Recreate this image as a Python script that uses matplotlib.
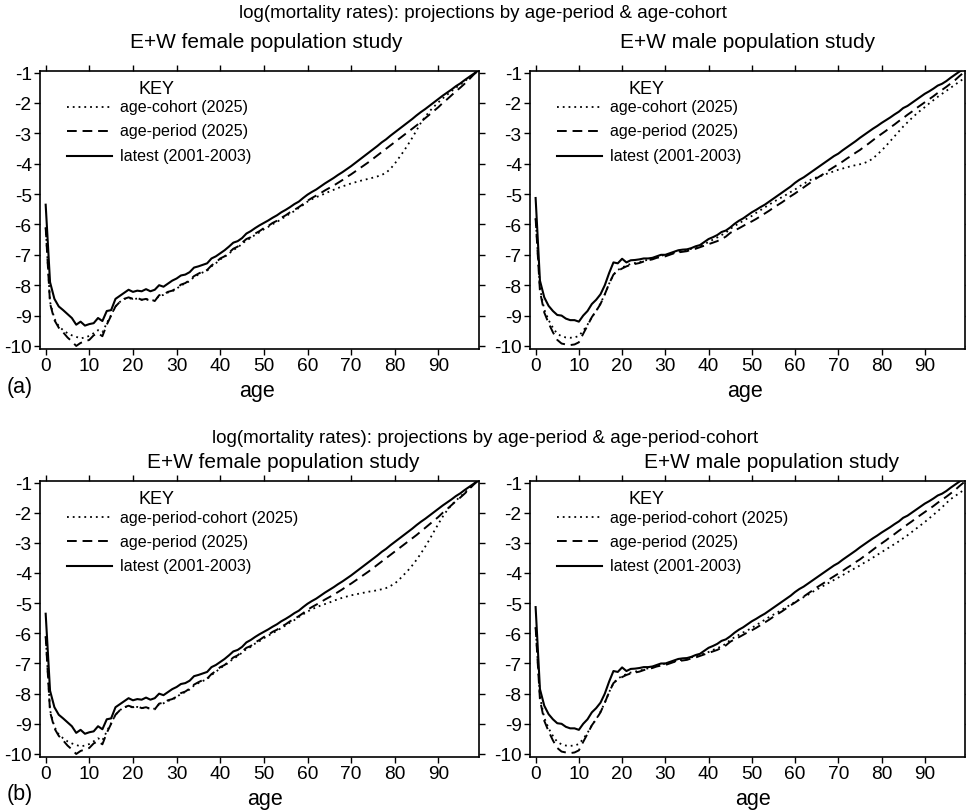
import matplotlib
matplotlib.use("Agg")
import matplotlib.pyplot as plt
from matplotlib.lines import Line2D

plt.rcParams['font.family'] = ['Liberation Sans', 'DejaVu Sans']
plt.rcParams['axes.unicode_minus'] = False

ages = list(range(100))

female_latest = [
    -5.35, -7.9, -8.45, -8.7, -8.82, -8.95, -9.08, -9.3, -9.2, -9.33,
    -9.28, -9.25, -9.08, -9.18, -8.85, -8.82, -8.45, -8.35, -8.25, -8.15,
    -8.22, -8.18, -8.2, -8.13, -8.2, -8.15, -8.0, -8.05, -7.95, -7.85,
    -7.78, -7.68, -7.65, -7.57, -7.42, -7.38, -7.33, -7.28, -7.12, -7.05,
    -6.95, -6.85, -6.73, -6.6, -6.55, -6.45, -6.3, -6.22, -6.12, -6.03,
    -5.95, -5.87, -5.78, -5.7, -5.6, -5.52, -5.43, -5.33, -5.25, -5.13,
    -5.02, -4.93, -4.85, -4.75, -4.65, -4.56, -4.47, -4.37, -4.28, -4.18,
    -4.08, -3.97, -3.86, -3.75, -3.64, -3.53, -3.42, -3.3, -3.2, -3.08,
    -2.97, -2.86, -2.75, -2.64, -2.53, -2.41, -2.3, -2.2, -2.09, -1.98,
    -1.87, -1.76, -1.66, -1.56, -1.45, -1.36, -1.25, -1.15, -1.05, -0.95]

female_ap = [
    -6.1, -8.6, -9.15, -9.4, -9.55, -9.72, -9.85, -10.0, -9.9, -9.85,
    -9.8, -9.65, -9.58, -9.68, -9.3, -9.0, -8.7, -8.55, -8.45, -8.4,
    -8.45, -8.42, -8.48, -8.45, -8.5, -8.52, -8.33, -8.3, -8.22, -8.18,
    -8.1, -7.98, -7.93, -7.83, -7.7, -7.62, -7.55, -7.5, -7.35, -7.25,
    -7.12, -7.05, -6.93, -6.8, -6.73, -6.6, -6.48, -6.42, -6.3, -6.22,
    -6.12, -6.05, -5.95, -5.88, -5.78, -5.7, -5.6, -5.52, -5.43, -5.33,
    -5.22, -5.13, -5.05, -4.97, -4.88, -4.8, -4.72, -4.63, -4.54, -4.44,
    -4.35, -4.25, -4.15, -4.05, -3.95, -3.84, -3.73, -3.62, -3.51, -3.4,
    -3.29, -3.18, -3.07, -2.96, -2.85, -2.74, -2.62, -2.5, -2.38, -2.26,
    -2.14, -2.0, -1.88, -1.75, -1.62, -1.5, -1.37, -1.23, -1.08, -0.95]

female_ac = [
    -6.1, -8.55, -9.1, -9.35, -9.48, -9.58, -9.65, -9.7, -9.75, -9.72,
    -9.67, -9.58, -9.48, -9.55, -9.25, -8.98, -8.7, -8.55, -8.45, -8.42,
    -8.46, -8.44, -8.48, -8.47, -8.5, -8.5, -8.35, -8.32, -8.24, -8.2,
    -8.12, -8.0, -7.95, -7.86, -7.73, -7.65, -7.58, -7.52, -7.38, -7.28,
    -7.15, -7.07, -6.96, -6.84, -6.76, -6.64, -6.52, -6.45, -6.34, -6.26,
    -6.16, -6.08, -5.99, -5.92, -5.82, -5.74, -5.64, -5.56, -5.46, -5.36,
    -5.25, -5.17, -5.1, -5.05, -4.98, -4.92, -4.86, -4.8, -4.75, -4.7,
    -4.65, -4.61, -4.57, -4.53, -4.5, -4.46, -4.42, -4.37, -4.3, -4.17,
    -4.0, -3.8, -3.6, -3.38, -3.15, -2.9, -2.65, -2.45, -2.27, -2.12,
    -1.98, -1.85, -1.73, -1.61, -1.5, -1.4, -1.29, -1.17, -1.05, -0.95]

female_apc = [
    -6.1, -8.55, -9.1, -9.35, -9.48, -9.58, -9.65, -9.7, -9.75, -9.72,
    -9.67, -9.58, -9.48, -9.55, -9.25, -8.98, -8.7, -8.55, -8.45, -8.42,
    -8.46, -8.44, -8.48, -8.47, -8.5, -8.5, -8.35, -8.32, -8.24, -8.2,
    -8.12, -8.0, -7.95, -7.86, -7.73, -7.65, -7.58, -7.52, -7.38, -7.28,
    -7.15, -7.07, -6.96, -6.84, -6.76, -6.64, -6.52, -6.45, -6.34, -6.26,
    -6.16, -6.08, -5.99, -5.92, -5.82, -5.74, -5.64, -5.56, -5.46, -5.37,
    -5.28, -5.2, -5.14, -5.08, -5.03, -4.98, -4.92, -4.87, -4.82, -4.78,
    -4.74, -4.71, -4.68, -4.65, -4.62, -4.6, -4.57, -4.54, -4.5, -4.43,
    -4.35, -4.22, -4.07, -3.92, -3.75, -3.56, -3.35, -3.12, -2.88, -2.62,
    -2.37, -2.13, -1.92, -1.75, -1.6, -1.47, -1.34, -1.2, -1.06, -0.95]

male_latest = [
    -5.13, -7.85, -8.4, -8.68, -8.85, -8.98, -9.0, -9.1, -9.15, -9.15,
    -9.2, -9.0, -8.85, -8.62, -8.48, -8.3, -8.0, -7.6, -7.25, -7.28,
    -7.13, -7.25, -7.18, -7.17, -7.15, -7.12, -7.12, -7.1, -7.05, -7.0,
    -7.0, -6.95, -6.9, -6.85, -6.83, -6.82, -6.78, -6.72, -6.68, -6.58,
    -6.48, -6.42, -6.35, -6.25, -6.2, -6.1, -5.98, -5.88, -5.8, -5.7,
    -5.6, -5.52, -5.43, -5.35, -5.25, -5.15, -5.05, -4.95, -4.85, -4.75,
    -4.63, -4.53, -4.45, -4.35, -4.25, -4.15, -4.05, -3.95, -3.85, -3.75,
    -3.67, -3.56, -3.46, -3.36, -3.26, -3.15, -3.05, -2.95, -2.85, -2.76,
    -2.66, -2.57, -2.48, -2.38, -2.29, -2.17, -2.1, -2.0, -1.9, -1.8,
    -1.7, -1.62, -1.53, -1.43, -1.37, -1.28, -1.17, -1.07, -0.97, -0.88]

male_ap = [
    -5.8, -8.2, -8.9, -9.25, -9.55, -9.8, -9.92, -9.95, -9.97, -9.95,
    -9.88, -9.6, -9.33, -9.05, -8.85, -8.62, -8.3, -7.95, -7.65, -7.53,
    -7.45, -7.38, -7.33, -7.3, -7.27, -7.22, -7.18, -7.15, -7.1, -7.07,
    -7.05, -7.0, -6.95, -6.92, -6.9, -6.88, -6.83, -6.8, -6.75, -6.7,
    -6.65, -6.6, -6.55, -6.48, -6.4, -6.28, -6.2, -6.13, -6.05, -5.97,
    -5.9, -5.82, -5.73, -5.64, -5.55, -5.45, -5.36, -5.27, -5.17, -5.07,
    -4.98, -4.88, -4.78, -4.68, -4.58, -4.48, -4.39, -4.3, -4.2, -4.11,
    -4.02, -3.93, -3.83, -3.74, -3.64, -3.55, -3.44, -3.34, -3.23, -3.12,
    -3.02, -2.92, -2.81, -2.71, -2.6, -2.5, -2.39, -2.29, -2.18, -2.08,
    -1.98, -1.88, -1.78, -1.67, -1.57, -1.47, -1.36, -1.25, -1.12, -1.0]

male_ac = [
    -5.8, -8.1, -8.8, -9.15, -9.4, -9.6, -9.68, -9.72, -9.73, -9.72,
    -9.67, -9.5, -9.3, -9.05, -8.85, -8.6, -8.3, -7.95, -7.65, -7.5,
    -7.42, -7.35, -7.3, -7.27, -7.24, -7.2, -7.16, -7.12, -7.07, -7.03,
    -7.0, -6.97, -6.93, -6.9, -6.87, -6.85, -6.8, -6.75, -6.7, -6.65,
    -6.58, -6.5, -6.43, -6.35, -6.27, -6.15, -6.05, -5.97, -5.88, -5.8,
    -5.72, -5.62, -5.53, -5.44, -5.35, -5.26, -5.18, -5.1, -5.02, -4.93,
    -4.85, -4.75, -4.66, -4.58, -4.5, -4.45, -4.4, -4.35, -4.3, -4.25,
    -4.2, -4.16, -4.12, -4.08, -4.05, -4.02, -3.98, -3.92, -3.83, -3.7,
    -3.57, -3.42, -3.26, -3.1, -2.94, -2.78, -2.64, -2.5, -2.37, -2.25,
    -2.14, -2.02, -1.91, -1.8, -1.7, -1.6, -1.5, -1.4, -1.3, -1.2]

male_apc = [
    -5.8, -8.1, -8.8, -9.15, -9.4, -9.6, -9.68, -9.72, -9.73, -9.72,
    -9.67, -9.5, -9.3, -9.05, -8.85, -8.6, -8.3, -7.95, -7.65, -7.5,
    -7.42, -7.35, -7.3, -7.27, -7.24, -7.2, -7.16, -7.12, -7.07, -7.03,
    -7.0, -6.97, -6.93, -6.9, -6.87, -6.85, -6.8, -6.76, -6.72, -6.67,
    -6.62, -6.55, -6.5, -6.42, -6.35, -6.22, -6.13, -6.05, -5.97, -5.9,
    -5.82, -5.73, -5.64, -5.55, -5.46, -5.38, -5.3, -5.21, -5.13, -5.04,
    -4.96, -4.88, -4.8, -4.72, -4.63, -4.55, -4.47, -4.39, -4.31, -4.23,
    -4.15, -4.07, -3.99, -3.91, -3.83, -3.75, -3.66, -3.58, -3.49, -3.4,
    -3.31, -3.22, -3.13, -3.04, -2.95, -2.85, -2.75, -2.64, -2.53, -2.42,
    -2.31, -2.19, -2.07, -1.95, -1.82, -1.68, -1.55, -1.45, -1.35, -1.25]

x_ticks = [0, 10, 20, 30, 40, 50, 60, 70, 80, 90]
y_ticks = [-1, -2, -3, -4, -5, -6, -7, -8, -9, -10]

main_titles = ["log(mortality rates): projections by age-period & age-cohort",
               "log(mortality rates): projections by age-period & age-period-cohort"]
sub_titles = ["E+W female population study", "E+W male population study"]
latest_label = "latest (2001-2003)"
ap_label = "age-period (2025)"
ac_label = "age-cohort (2025)"
apc_label = "age-period-cohort (2025)"

W, H = 966, 812
fig = plt.figure(figsize=(W / 100, H / 100), dpi=100)


def px_axes(l, t, r, b):
    return fig.add_axes([l / W, 1 - b / H, (r - l) / W, (b - t) / H])


DOT = (0, (1.0, 2.2))
DASH = (0, (5.0, 3.0))

panels = [
    (40, 72, 479, 350, female_ac, ac_label, female_ap, female_latest),
    (530, 72, 965, 350, male_ac, ac_label, male_ap, male_latest),
    (40, 482, 479, 758, female_apc, apc_label, female_ap, female_latest),
    (530, 482, 965, 758, male_apc, apc_label, male_ap, male_latest),
]

for (l, t, r, b, dotted, dlabel, dashed, solid) in panels:
    ax = px_axes(l, t, r, b)
    ax.plot(ages, dotted, color='black', lw=1.3, linestyle=DOT)
    ax.plot(ages, dashed, color='black', lw=1.4, linestyle=DASH)
    ax.plot(ages, solid, color='black', lw=1.5, linestyle='-')
    ax.set_xlim(-1.3, 99.3)
    ax.set_ylim(-10.1, -0.95)
    ax.set_xticks(x_ticks)
    ax.set_yticks(y_ticks)
    ax.set_yticklabels([str(v) for v in y_ticks])
    ax.tick_params(direction='out', length=4, width=1.0, labelsize=13.8,
                   top=True, right=True, pad=2, colors='black')
    ax.tick_params(axis='x', pad=2)
    for s in ax.spines.values():
        s.set_linewidth(1.2)
    # key
    aw = r - l
    ah = b - t
    ax.text(117 / aw, 1 - 18 / ah, "KEY", transform=ax.transAxes,
            ha='center', va='center', fontsize=13)
    rows = [(36, DOT, 1.3, dlabel), (60, DASH, 1.4, ap_label), (85, '-', 1.5, latest_label)]
    for yy, ls, lw, lab in rows:
        yf = 1 - yy / ah
        ax.add_line(Line2D([27 / aw, 72 / aw], [yf, yf], transform=ax.transAxes,
                           color='black', lw=lw, linestyle=ls))
        ax.text(80 / aw, yf, lab, transform=ax.transAxes, ha='left', va='center',
                fontsize=11.6)


def ftxt(x, y, s, size, **kw):
    fig.text(x / W, 1 - y / H, s, fontsize=size, ha='center', va='center', **kw)


ftxt(483, 14, main_titles[0], 13.5)
ftxt(266, 43, sub_titles[0], 15)
ftxt(748, 43, sub_titles[1], 15)
ftxt(257, 391, "age", 15.5)
ftxt(745, 391, "age", 15.5)
ftxt(20, 388, "(a)", 15.5)

ftxt(485, 439, main_titles[1], 13.5)
ftxt(283, 463, sub_titles[0], 15)
ftxt(772, 463, sub_titles[1], 15)
ftxt(265, 800, "age", 15.5)
ftxt(753, 800, "age", 15.5)
ftxt(20, 795, "(b)", 15.5)

fig.savefig("out.png", dpi=100)
